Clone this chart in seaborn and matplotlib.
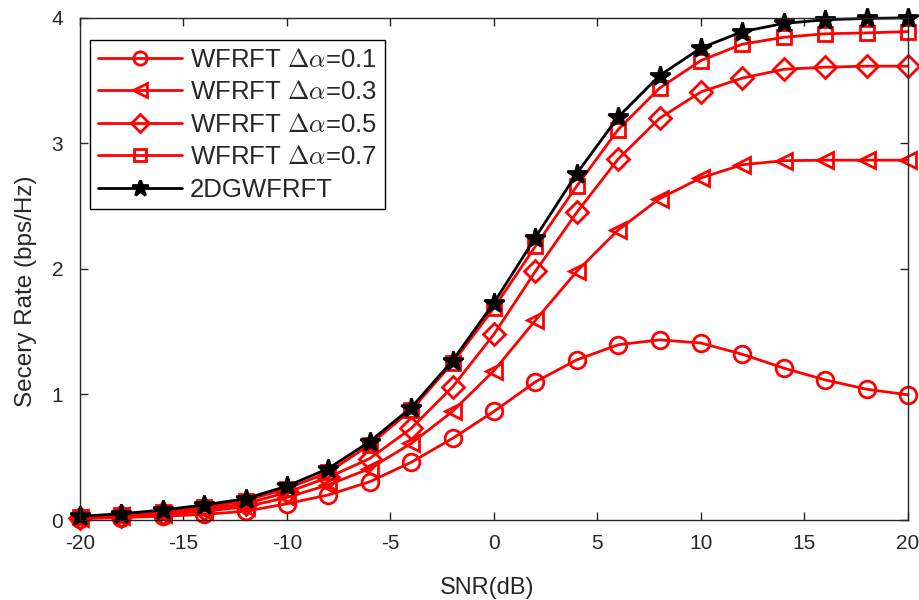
# SECRECY RATE vs SNR  (WFRFT vs 2DGWFRFT)

import numpy as np
import pandas as pd
import matplotlib
matplotlib.use("Agg")
import matplotlib.pyplot as plt
import seaborn as sns

# DATA

snr = [-20, -18, -16, -14, -12, -10, -8, -6, -4, -2, 0,
       2, 4, 6, 8, 10, 12, 14, 16, 18, 20]

rate_01 = [0.01, 0.02, 0.03, 0.045, 0.07, 0.13, 0.20, 0.305, 0.46, 0.65, 0.865,
           1.10, 1.276, 1.396, 1.435, 1.41, 1.32, 1.21, 1.116, 1.042, 0.997]
rate_03 = [0.015, 0.03, 0.045, 0.07, 0.105, 0.18, 0.28, 0.41, 0.61, 0.865, 1.19,
           1.59, 1.98, 2.31, 2.56, 2.725, 2.83, 2.862, 2.866, 2.866, 2.866]
rate_05 = [0.02, 0.035, 0.055, 0.085, 0.13, 0.22, 0.34, 0.49, 0.73, 1.06, 1.48,
           1.98, 2.45, 2.875, 3.20, 3.41, 3.52, 3.59, 3.607, 3.615, 3.615]
rate_07 = [0.025, 0.04, 0.065, 0.10, 0.155, 0.25, 0.38, 0.60, 0.875, 1.25, 1.69,
           2.18, 2.66, 3.11, 3.44, 3.66, 3.79, 3.845, 3.873, 3.88, 3.89]
rate_2d = [0.03, 0.05, 0.08, 0.12, 0.17, 0.27, 0.41, 0.625, 0.895, 1.27, 1.73,
           2.25, 2.76, 3.21, 3.54, 3.76, 3.89, 3.955, 3.985, 3.995, 4.0]

labels = [r"WFRFT $\Delta\alpha$=0.1", r"WFRFT $\Delta\alpha$=0.3",
          r"WFRFT $\Delta\alpha$=0.5", r"WFRFT $\Delta\alpha$=0.7",
          "2DGWFRFT"]
series = [rate_01, rate_03, rate_05, rate_07, rate_2d]
markers = ["o", "<", "D", "s", "*"]
colors = ["red", "red", "red", "red", "black"]
faces = ["none", "none", "none", "none", "black"]
msizes = [12, 12, 11, 10, 15]

# STYLE

sns.set_style("ticks")
plt.rcParams["font.family"] = ["Liberation Sans", "DejaVu Sans"]
plt.rcParams["mathtext.fontset"] = "cm"
plt.rcParams["axes.unicode_minus"] = False
plt.rcParams["xtick.direction"] = "in"
plt.rcParams["ytick.direction"] = "in"

fig = plt.figure(figsize=(9.19, 6.0), dpi=100)
ax = fig.add_axes([0.087, 0.1333, 0.901, 0.837])

for y, lab, m, c, fc, ms in zip(series, labels, markers, colors, faces, msizes):
    df = pd.DataFrame({"snr": snr, "rate": y})
    sns.lineplot(data=df, x="snr", y="rate", ax=ax, label=lab,
                 color=c, marker=m, markersize=ms, markerfacecolor=fc,
                 markeredgecolor=c, markeredgewidth=2, linewidth=2,
                 clip_on=False)

ax.set_xlim(-20, 20)
ax.set_ylim(0, 4)
ax.set_xticks(np.arange(-20, 21, 5))
ax.set_yticks(np.arange(0, 5, 1))
ax.tick_params(labelsize=15, top=True, right=True, length=6, width=1)
ax.tick_params(axis="x", pad=10)
ax.tick_params(axis="y", pad=12)
for s in ax.spines.values():
    s.set_linewidth(1)

ax.set_xlabel("SNR(dB)", fontsize=17)
ax.set_ylabel("Secery Rate (bps/Hz)", fontsize=17.5)
ax.xaxis.set_label_coords(0.492, -0.1135)
ax.yaxis.set_label_coords(-0.052, 0.456)

leg = ax.legend(loc="upper left", fontsize=18.5, handlelength=3.3,
                labelspacing=0.33, borderpad=0.3, handletextpad=0.3,
                borderaxespad=0, fancybox=False, framealpha=1,
                edgecolor="black", bbox_to_anchor=(0.012, 0.956))
leg.get_frame().set_linewidth(1)
for h in leg.legend_handles:
    h.set_markersize(h.get_markersize() * 0.8)

plt.savefig("out.png", dpi=100)
